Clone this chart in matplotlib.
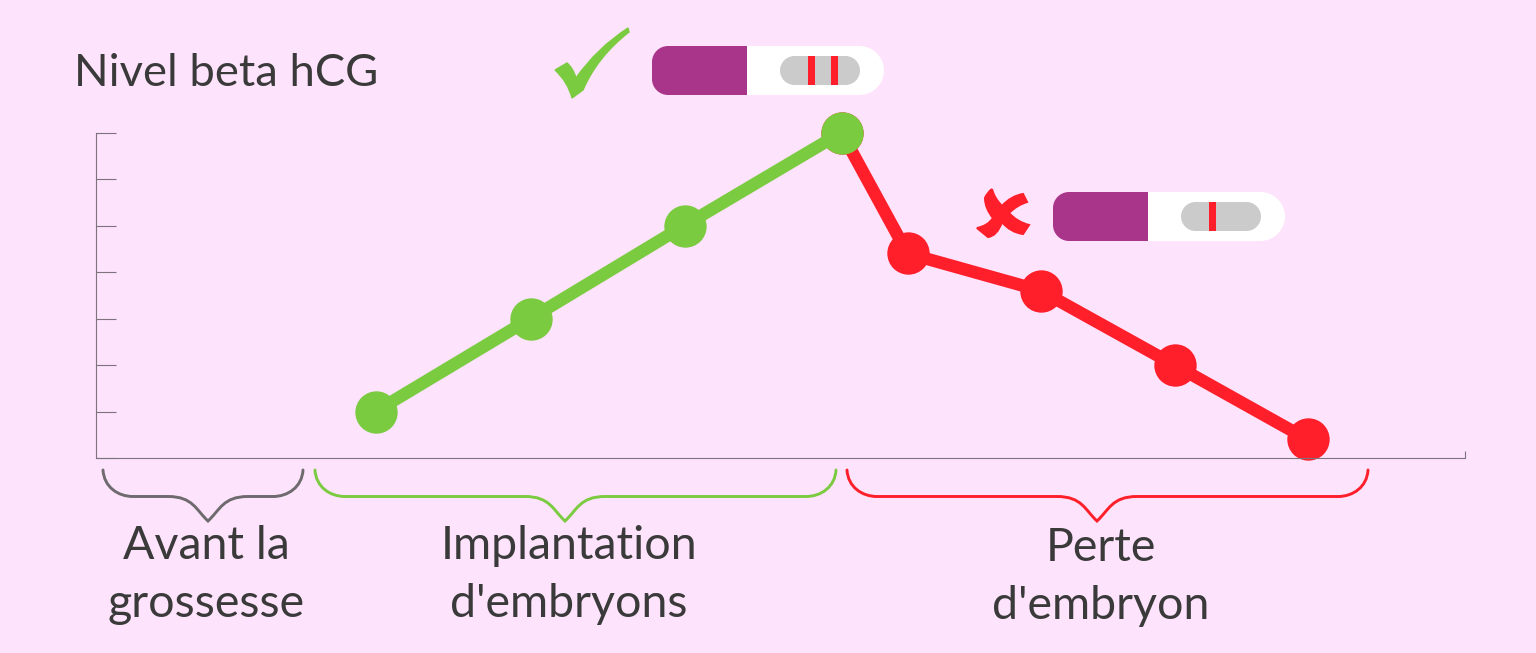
import matplotlib
matplotlib.use('Agg')
import matplotlib.pyplot as plt
from matplotlib.patches import PathPatch, Rectangle
from matplotlib.path import Path

#Data
x_green = [376, 531, 685, 842]
y_green = [1, 3, 5, 7]
x_red = [842, 908, 1041, 1175, 1308]
y_red = [7, 4.4, 3.6, 2, 0.4]
y_ticks = [0, 1, 2, 3, 4, 5, 6, 7]

title = 'Nivel beta hCG'
brace_spans = [(103, 303), (315, 836), (847, 1368)]
brace_tips = [208, 565, 1097]
brace_labels = [['Avant la', 'grossesse'], ['Implantation', "d'embryons"], ['Perte', "d'embryon"]]
label_x = [206, 569, 1101]
label_y = [[546, 604], [546, 604], [548, 606]]

test_left = [652, 1053]
test_top = [46, 192]
test_bars = [[808, 831], [1209]]

#Outlines of the two signs, in pixels
check_shape = [(555, 70), (567, 63), (573, 68), (576, 78), (597, 48), (628, 28), (629, 32),
               (597, 57), (583, 90), (572, 98), (568, 82), (555, 70)]
check_codes = [Path.MOVETO, Path.LINETO, Path.CURVE3, Path.CURVE3, Path.CURVE3, Path.CURVE3, Path.LINETO,
               Path.CURVE3, Path.CURVE3, Path.LINETO, Path.CURVE3, Path.CURVE3]
cross_shape = [(992, 189), (994, 198), (1002, 206), (1011, 196), (1023, 194), (1027, 202),
               (1017, 205), (1009, 213), (1017, 222), (1029, 225), (1023, 234), (1010, 232),
               (1002, 222), (997, 236), (988, 237), (977, 228), (988, 226), (993, 218),
               (985, 208), (985, 198), (987, 193), (992, 189)]
cross_codes = [Path.MOVETO, Path.CURVE3, Path.CURVE3, Path.CURVE3, Path.CURVE3, Path.LINETO,
               Path.CURVE3, Path.CURVE3, Path.CURVE3, Path.CURVE3, Path.LINETO, Path.CURVE3,
               Path.CURVE3, Path.CURVE3, Path.CURVE3, Path.LINETO, Path.CURVE3, Path.CURVE3,
               Path.CURVE3, Path.CURVE3, Path.CURVE3, Path.CURVE3]

#Colors
bg = '#FDE3FB'
green = '#7BCB40'
red = '#FF1F2B'
purple = '#A9358A'
grey = '#CBCBCB'
axis_col = '#7d7480'
brace_grey = '#6e6a6e'
text_col = '#3a3a3a'
plt.rcParams['font.family'] = ['Lato', 'DejaVu Sans']

W, H = 1536, 653
fig = plt.figure(figsize=(W / 100, H / 100), dpi=100, facecolor=bg)

#Chart axes
left, right, top, bottom = 95.5, 1464.5, 132.5, 458
ax = fig.add_axes([left / W, 1 - bottom / H, (right - left) / W, (bottom - top) / H])
ax.set_facecolor('none')
ax.set_xlim(96, 1465)
ax.set_ylim(0, 7)
ax.spines['top'].set_visible(False)
ax.spines['right'].set_visible(False)
ax.spines['left'].set_color(axis_col)
ax.spines['bottom'].set_color(axis_col)
ax.set_xticks([1465])
ax.set_xticklabels([])
ax.set_yticks(y_ticks)
ax.set_yticklabels([])
ax.tick_params(axis='y', direction='in', length=14.5, width=0.8, color=axis_col)
ax.tick_params(axis='x', direction='in', length=5, width=0.8, color=axis_col)

ax.plot(x_red, y_red, color=red, lw=9, marker='o', ms=30.5, mew=0, clip_on=False, solid_capstyle='round')
ax.plot(x_green, y_green, color=green, lw=9, marker='o', ms=30.5, mew=0, clip_on=False, solid_capstyle='round')

#Overlay in pixels for the drawings around the chart
ov = fig.add_axes([0, 0, 1, 1])
ov.set_xlim(0, W)
ov.set_ylim(H, 0)
ov.axis('off')
ov.patch.set_alpha(0)

ov.text(74, 73, title, fontsize=32.7, color=text_col, va='center', ha='left')

ov.add_patch(PathPatch(Path(check_shape, check_codes), fc=green, ec=green, lw=1))
ov.add_patch(PathPatch(Path(cross_shape, cross_codes), fc=red, ec=red, lw=1.5))


def rounded(x0, y0, x1, y1, r, col):
    #Rounded box with true circular corners
    k = r * 0.45
    verts = [(x0 + r, y0), (x1 - r, y0), (x1 - k, y0), (x1, y0 + k), (x1, y0 + r),
             (x1, y1 - r), (x1, y1 - k), (x1 - k, y1), (x1 - r, y1),
             (x0 + r, y1), (x0 + k, y1), (x0, y1 - k), (x0, y1 - r),
             (x0, y0 + r), (x0, y0 + k), (x0 + k, y0), (x0 + r, y0)]
    codes = [Path.MOVETO, Path.LINETO, Path.CURVE4, Path.CURVE4, Path.CURVE4,
             Path.LINETO, Path.CURVE4, Path.CURVE4, Path.CURVE4,
             Path.LINETO, Path.CURVE4, Path.CURVE4, Path.CURVE4,
             Path.LINETO, Path.CURVE4, Path.CURVE4, Path.CURVE4]
    ov.add_patch(PathPatch(Path(verts, codes), fc=col, ec='none'))


#Pregnancy tests
for tx, ty, bars in zip(test_left, test_top, test_bars):
    rounded(tx + 50, ty, tx + 232, ty + 49, 24.5, 'white')
    rounded(tx, ty, tx + 70, ty + 49, 16, purple)
    ov.add_patch(Rectangle((tx + 30, ty), 65, 49, fc=purple, ec='none'))
    rounded(tx + 128, ty + 10, tx + 208, ty + 39, 14.5, grey)
    for b in bars:
        ov.add_patch(Rectangle((b, ty + 10), 7, 29, fc=red, ec='none'))

#Braces and their labels
brace_cols = [brace_grey, green, red]
for (x0, x1), tip, col, lines, lx, ly in zip(brace_spans, brace_tips, brace_cols, brace_labels, label_x, label_y):
    top_y, mid_y, tip_y = 470, 496.5, 521
    verts = [(x0, top_y), (x0 + 1, 487), (x0 + 15, mid_y), (x0 + 30, mid_y),
             (tip - 40, mid_y),
             (tip - 15, mid_y), (tip - 12, 510), (tip, tip_y),
             (tip + 12, 510), (tip + 15, mid_y), (tip + 40, mid_y),
             (x1 - 30, mid_y),
             (x1 - 15, mid_y), (x1 - 1, 487), (x1, top_y)]
    codes = [Path.MOVETO, Path.CURVE4, Path.CURVE4, Path.CURVE4,
             Path.LINETO,
             Path.CURVE4, Path.CURVE4, Path.CURVE4,
             Path.CURVE4, Path.CURVE4, Path.CURVE4,
             Path.LINETO,
             Path.CURVE4, Path.CURVE4, Path.CURVE4]
    ov.add_patch(PathPatch(Path(verts, codes), fc='none', ec=col, lw=2.1, capstyle='round'))
    for line, y in zip(lines, ly):
        ov.text(lx, y, line, fontsize=33.5, color=text_col, ha='center', va='center')

fig.savefig('out.png', dpi=100, facecolor=bg)
